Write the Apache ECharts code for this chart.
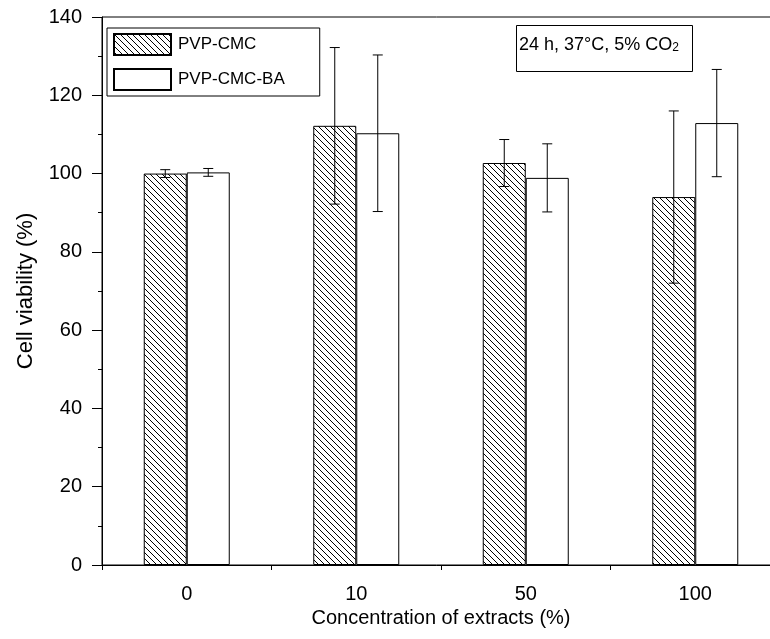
<!DOCTYPE html>
<html><head><meta charset="utf-8">
<script src="https://cdn.jsdelivr.net/npm/echarts@6/dist/echarts.min.js"></script>
<style>html,body{margin:0;padding:0;background:#fff}#c{width:770px;height:639px}</style>
</head><body><div id="c"></div>
<script>
const categories = ['0', '10', '50', '100'];
const pvpCmc = [100, 112.2, 102.7, 94];
const pvpCmcErr = [1, 20, 6, 22];
const pvpCmcBa = [100.3, 110.3, 98.9, 112.9];
const pvpCmcBaErr = [1, 20, 8.7, 13.7];
const yTicks = [0, 20, 40, 60, 80, 100, 120, 140];

function hatch() {
  const s = 6, c = document.createElement('canvas');
  c.width = s; c.height = s;
  const g = c.getContext('2d');
  g.fillStyle = '#fff'; g.fillRect(0, 0, s, s);
  g.strokeStyle = '#000'; g.lineWidth = 1;
  g.beginPath();
  g.moveTo(-1, -1); g.lineTo(s + 1, s + 1);
  g.moveTo(-1, s - 1); g.lineTo(1, s + 1);
  g.moveTo(s - 1, -1); g.lineTo(s + 1, 1);
  g.stroke();
  return c;
}
const BW = 43;
const font = 'Liberation Sans';
function errSeries(vals, errs, off) {
  return {
    type: 'custom', silent: true, z: 5,
    data: vals.map((v, i) => [i, v, errs[i]]),
    encode: { x: 0, y: 1 },
    renderItem: function (params, api) {
      const i = api.value(0), v = api.value(1), e = api.value(2);
      const top = api.coord([i, v + e]);
      const bot = api.coord([i, v - e]);
      const x = top[0] + off;
      const cw = 5;
      return { type: 'group', children: [
        { type: 'line', shape: { x1: x, y1: top[1], x2: x, y2: bot[1] }, style: { stroke: '#000', lineWidth: 1 } },
        { type: 'line', shape: { x1: x - cw, y1: top[1], x2: x + cw, y2: top[1] }, style: { stroke: '#000', lineWidth: 1 } },
        { type: 'line', shape: { x1: x - cw, y1: bot[1], x2: x + cw, y2: bot[1] }, style: { stroke: '#000', lineWidth: 1 } }
      ]};
    }
  };
}
const chart = echarts.init(document.getElementById('c'));
chart.setOption({
  animation: false,
  textStyle: { fontFamily: font, color: '#000' },
  grid: { left: 102, right: -10, top: 17, bottom: 74, outerBoundsMode: 'none', containLabel: false,
    show: true, borderColor: '#000', borderWidth: 1, backgroundColor: 'transparent' },
  legend: {
    left: 107, top: 28, orient: 'vertical', icon: 'rect',
    padding: [5, 35, 5, 6], itemGap: 12, itemWidth: 57, itemHeight: 21,
    borderColor: '#000', borderWidth: 1,
    textStyle: { fontFamily: font, fontSize: 17, color: '#000', padding: [0, 0, 0, 2] },
    data: ['PVP-CMC', 'PVP-CMC-BA']
  },
  xAxis: [{
    type: 'category', data: categories,
    name: 'Concentration of extracts (%)', nameLocation: 'middle', nameGap: 33,
    nameTextStyle: { fontFamily: font, fontSize: 20, color: '#000' },
    axisLine: { lineStyle: { color: '#000', width: 1 } },
    axisTick: { alignWithLabel: true, length: 10, lineStyle: { color: '#000' } },
    axisLabel: { fontFamily: font, fontSize: 20, color: '#000', margin: 19 }
  }, {
    type: 'category', data: categories, position: 'bottom',
    axisLine: { show: false }, axisLabel: { show: false },
    axisTick: { show: true, length: 5, lineStyle: { color: '#000' } }
  }],
  yAxis: {
    type: 'value', min: 0, max: 140, interval: 20,
    name: 'Cell viability (%)', nameLocation: 'middle', nameGap: 65,
    nameTextStyle: { fontFamily: font, fontSize: 22, color: '#000' },
    axisLine: { show: true, lineStyle: { color: '#000', width: 1 } },
    axisTick: { show: true, length: 10, lineStyle: { color: '#000' } },
    minorTick: { show: true, splitNumber: 2, length: 4, lineStyle: { color: '#000' } },
    splitLine: { show: false },
    axisLabel: { fontFamily: font, fontSize: 20, color: '#000', margin: 20,
      formatter: v => yTicks.includes(v) ? String(v) : '' }
  },
  series: [
    { name: 'PVP-CMC', type: 'bar', data: pvpCmc, barWidth: BW, barGap: '0%',
      itemStyle: { color: { image: hatch(), repeat: 'repeat' }, borderColor: '#000', borderWidth: 1 } },
    { name: 'PVP-CMC-BA', type: 'bar', data: pvpCmcBa, barWidth: BW, barGap: '0%',
      itemStyle: { color: '#fff', borderColor: '#000', borderWidth: 1 } },
    errSeries(pvpCmc, pvpCmcErr, -BW / 2),
    errSeries(pvpCmcBa, pvpCmcBaErr, BW / 2)
  ],
  graphic: [
    { type: 'rect', left: 516, top: 25, shape: { width: 176, height: 46 },
      style: { fill: '#fff', stroke: '#000', lineWidth: 1 }, z: 10 },
    { type: 'text', left: 519, top: 36, z: 11,
      style: { text: '{a|24 h, 37°C, 5% CO}{s|2}', rich: {
        a: { fontFamily: font, fontSize: 18, fill: '#000', verticalAlign: 'bottom' },
        s: { fontFamily: font, fontSize: 12, fill: '#000', verticalAlign: 'bottom', padding: [8, 0, 0, 0] } } } }
  ]
});
</script></body></html>
